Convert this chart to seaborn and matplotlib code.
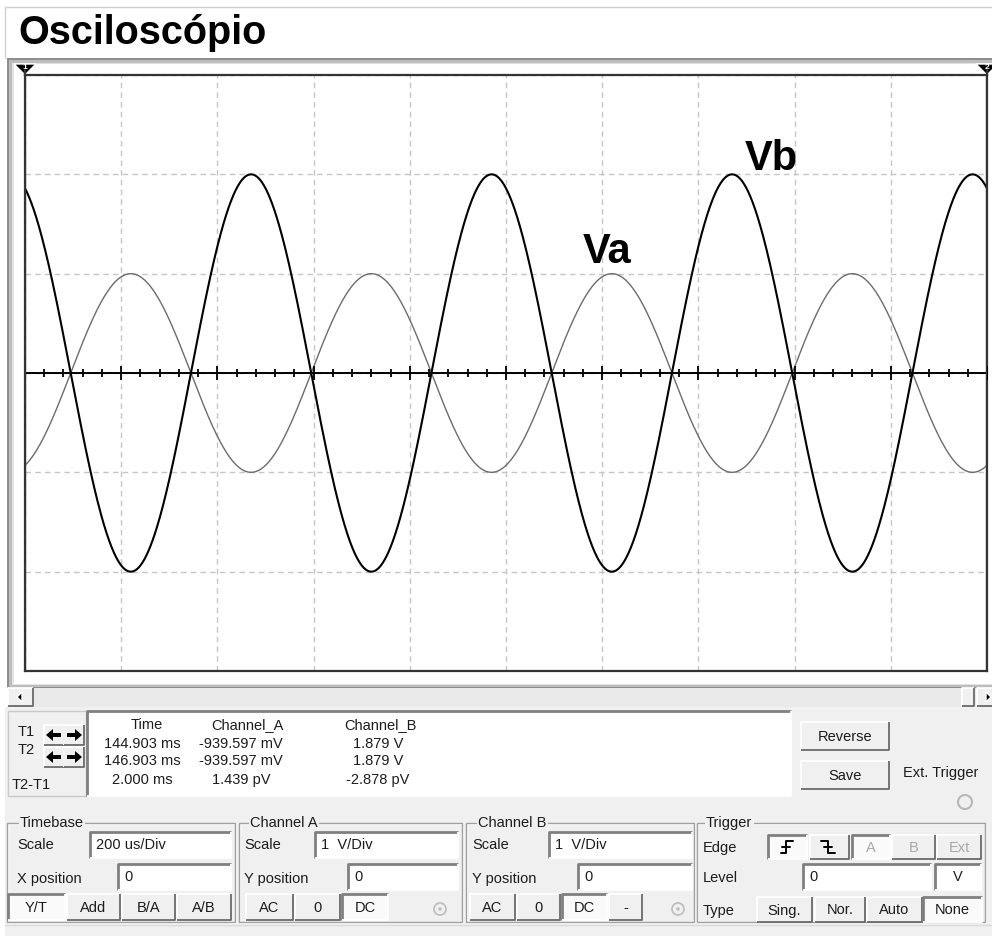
import numpy as np
import pandas as pd
import seaborn as sns
import matplotlib
matplotlib.use('Agg')
import matplotlib.pyplot as plt
from matplotlib.patches import Rectangle, Polygon, Circle, FancyArrow

# screen settings (from the panel)
time_per_div_us = 200
n_div_x = 10
div_y = [-3, -2, -1, 0, 1, 2, 3]

# traces: peak volts, period, time of one peak
trace_names = ['Va', 'Vb']
trace_amp = [1.0, 2.0]
trace_period_us = [500, 500]
trace_peak_us = [220, 470]
trace_colors = ['#6c6c6c', '#000000']
trace_lw = [1.0, 1.5]
label_t_us = [1160, 1497]
label_v = [1.11, 2.04]

# cursor readout
cursor_us = [0, 2000]
cursor_names = ['T1', 'T2', 'T2-T1']
readout_headers = ['Time', 'Channel_A', 'Channel_B']
readout_time = ['144.903 ms', '146.903 ms', '2.000 ms']
readout_a = ['-939.597 mV', '-939.597 mV', '1.439 pV']
readout_b = ['1.879 V', '1.879 V', '-2.878 pV']

# control settings
timebase_scale = '200 us/Div'
x_position = '0'
cha_scale = '1  V/Div'
chb_scale = '1  V/Div'
y_position = ['0', '0']
trig_level = '0'
trig_unit = 'V'

sns.set_style('white')
plt.rcParams['font.family'] = ['Liberation Sans', 'DejaVu Sans']

W, H = 992, 936
fig = plt.figure(figsize=(W / 100, H / 100), dpi=100)
bg = fig.add_axes([0, 0, 1, 1], zorder=0)
bg.set_xlim(0, W)
bg.set_ylim(H, 0)
bg.axis('off')

TXT = '#1c1c1c'
FS = 10.5


def rect(x0, y0, x1, y1, fc, ec='none', lw=1, z=1):
    bg.add_patch(Rectangle((x0, y0), x1 - x0, y1 - y0, facecolor=fc,
                           edgecolor=ec, lw=lw, zorder=z))


def bevel(x0, y0, x1, y1, raised=True, face='#f0f0f0', z=2):
    rect(x0, y0, x1, y1, face, z=z)
    if raised:
        hi, lo, lwh = 'white', '#6a6a6a', 1.3
    else:
        hi, lo, lwh = '#808080', '#ffffff', 2.0
    bg.plot([x0, x0, x1], [y1, y0, y0], color=hi, lw=lwh, zorder=z + 0.1,
            solid_capstyle='butt')
    bg.plot([x0, x1, x1], [y1, y1, y0], color=lo, lw=1.3, zorder=z + 0.1,
            solid_capstyle='butt')


def button(x0, y0, x1, y1, label, pressed=False, grey=False):
    bevel(x0, y0, x1, y1, raised=not pressed,
          face='#fafafa' if pressed else '#f0f0f0')
    if label:
        bg.text((x0 + x1) / 2, (y0 + y1) / 2 + 1, label, ha='center',
                va='center', fontsize=FS, zorder=3,
                color='#a8a8a8' if grey else TXT)


def textbox(x0, y0, x1, y1, value, center=False):
    bevel(x0, y0, x1, y1, raised=False, face='white')
    if center:
        bg.text((x0 + x1) / 2, (y0 + y1) / 2, value, ha='center',
                va='center', fontsize=FS, color=TXT, zorder=3)
    else:
        bg.text(x0 + 6, (y0 + y1) / 2, value, ha='left', va='center',
                fontsize=FS, color=TXT, zorder=3)


def group(x0, y0, x1, y1, title, tx):
    bg.add_patch(Rectangle((x0 + 1, y0 + 1), x1 - x0, y1 - y0, fill=False,
                           ec='white', lw=1, zorder=1.5))
    bg.add_patch(Rectangle((x0, y0), x1 - x0, y1 - y0, fill=False,
                           ec='#a0a0a0', lw=1, zorder=1.6))
    bg.text(tx, y0, title, ha='left', va='center', fontsize=FS, color=TXT,
            zorder=3, bbox=dict(fc='#f0f0f0', ec='none', pad=1))


def label(x, y, s, **kw):
    bg.text(x, y, s, ha=kw.pop('ha', 'left'), va='center', fontsize=FS,
            color=kw.pop('color', TXT), zorder=3, **kw)


def radio(x, y):
    bg.add_patch(Circle((x, y), 6, fill=False, ec='#c0c0c0', lw=1.3, zorder=3))
    bg.add_patch(Circle((x, y), 1.8, fc='#c0c0c0', ec='none', zorder=3))


# window background and title
rect(0, 0, W, H, 'white', z=0)
bg.plot([5, W], [7, 7], color='#cfcfcf', lw=1)
bg.plot([5, 5], [7, 58], color='#cfcfcf', lw=1)
bg.text(18, 44, 'Osciloscópio', fontsize=28.5, weight='bold', color='black',
        va='baseline', ha='left')

# screen frame
rect(7, 58, W, 689, '#8e8e8e')
rect(9, 60, W, 687, '#bdbdbd')
rect(12, 63, W, 685, '#e2e2e2')
rect(14, 64, W, 684, 'white')

# scroll bar
rect(7, 688, W, 707, '#eaeaea')
bevel(8, 688, 33, 706)
bg.add_patch(Polygon([(17, 697), (22, 692), (22, 702)], fc='black', zorder=3))
bevel(962, 688, 974, 706)
bevel(977, 688, 996, 706)
bg.add_patch(Polygon([(991, 697), (986, 692), (986, 702)], fc='black', zorder=3))

# control panel
rect(5, 707, W, H, '#f0f0f0')
bg.plot([5, W], [925, 925], color='#dadada', lw=1)

# cursor box
rect(8, 711, 86, 796, '#f0f0f0', ec='#cacaca', lw=1)
label(18, 732, cursor_names[0])
label(18, 750, cursor_names[1])
label(31, 785, cursor_names[2], ha='center')
for yc in [735, 757]:
    bevel(44, yc - 10, 64, yc + 10)
    bevel(64, yc - 10, 84, yc + 10)
    bg.add_patch(FancyArrow(61, yc, -15, 0, width=4, head_width=12,
                            head_length=7, length_includes_head=True,
                            fc='black', ec='none', zorder=4))
    bg.add_patch(FancyArrow(67, yc, 15, 0, width=4, head_width=12,
                            head_length=7, length_includes_head=True,
                            fc='black', ec='none', zorder=4))

bevel(87, 711, 791, 796, raised=False, face='white')
head_x = [147, 247, 380]
col_x = [142, 241, 378]
row_y = [744, 761, 780]
for hx, h in zip(head_x, readout_headers):
    label(hx, 725, h, ha='center')
for col, cx in zip([readout_time, readout_a, readout_b], col_x):
    for v, ry in zip(col, row_y):
        label(cx, ry, v, ha='center')

button(801, 722, 889, 750, 'Reverse')
button(801, 761, 889, 789, 'Save')
label(903, 773, 'Ext. Trigger')
bg.add_patch(Circle((965, 802), 7, fill=False, ec='#b8b8b8', lw=1.5, zorder=3))

# Timebase
group(7, 823, 235, 922, 'Timebase', 20)
label(17, 845, 'Scale')
label(17, 879, 'X position')
textbox(90, 832, 231, 858, timebase_scale)
textbox(118, 864, 231, 890, x_position)
button(8, 894, 65, 920, 'Y/T', pressed=True)
button(67, 894, 120, 920, 'Add')
button(122, 894, 175, 920, 'B/A')
button(177, 894, 231, 920, 'A/B')

# Channel A
group(239, 823, 462, 922, 'Channel A', 250)
label(244, 845, 'Scale')
label(244, 879, 'Y position')
textbox(315, 832, 458, 858, cha_scale)
textbox(348, 864, 458, 890, y_position[0])
button(246, 894, 293, 920, 'AC')
button(295, 894, 340, 920, '0')
button(342, 894, 388, 920, 'DC', pressed=True)
radio(440, 909)

# Channel B
group(466, 823, 694, 922, 'Channel B', 478)
label(472, 845, 'Scale')
label(472, 879, 'Y position')
textbox(549, 832, 692, 858, chb_scale)
textbox(578, 864, 692, 890, y_position[1])
button(470, 894, 515, 920, 'AC')
button(517, 894, 560, 920, '0')
button(562, 894, 607, 920, 'DC', pressed=True)
button(609, 894, 642, 920, '-')
radio(678, 909)

# Trigger
group(697, 823, 985, 922, 'Trigger', 706)
label(703, 848, 'Edge')
label(703, 878, 'Level')
label(703, 911, 'Type')
button(768, 835, 807, 859, '', pressed=True)
bg.plot([781, 786, 786, 793], [853, 853, 841, 841], color='black', lw=1.4, zorder=4)
bg.plot([782, 790], [847, 847], color='black', lw=1.4, zorder=4)
button(810, 835, 849, 859, '')
bg.plot([821, 828, 828, 835], [841, 841, 853, 853], color='black', lw=1.4, zorder=4)
bg.plot([824, 832], [847, 847], color='black', lw=1.4, zorder=4)
button(852, 835, 890, 859, 'A', pressed=True, grey=True)
button(892, 835, 935, 859, 'B', grey=True)
button(937, 835, 981, 859, 'Ext', grey=True)
textbox(803, 864, 931, 890, trig_level)
textbox(935, 864, 981, 890, trig_unit, center=True)
button(757, 897, 812, 922, 'Sing.')
button(815, 897, 865, 922, 'Nor.')
button(867, 897, 922, 922, 'Auto')
button(923, 897, 982, 922, 'None', pressed=True)

# cursor markers above the screen
for cx, num in [(25, '1'), (987, '2')]:
    bg.add_patch(Polygon([(cx - 11, 64), (cx + 11, 64), (cx, 75)], fc='black',
                         zorder=4))
    bg.text(cx, 67.5, num, color='white', fontsize=6, weight='bold',
            ha='center', va='center', zorder=5)
    bg.plot([cx, cx], [70, 76], color='#333333', lw=1.6, zorder=4)

# oscilloscope screen
L, R, T, B = 25, 987, 75, 671
ax = fig.add_axes([L / W, 1 - B / H, (R - L) / W, (B - T) / H], zorder=1)
ax.set_facecolor('white')

t = np.linspace(0, n_div_x * time_per_div_us, 2001)
frames = []
for name, amp, per, pk in zip(trace_names, trace_amp, trace_period_us, trace_peak_us):
    frames.append(pd.DataFrame({'t': t,
                                'v': amp * np.cos(2 * np.pi * (t - pk) / per),
                                'trace': name}))
df = pd.concat(frames, ignore_index=True)

ax.set_xticks(np.arange(0, n_div_x * time_per_div_us + 1, time_per_div_us))
ax.set_yticks(div_y)
ax.grid(True, color='#c6c6c6', ls=(0, (4, 3)), lw=1)
ax.tick_params(length=0, labelbottom=False, labelleft=False)

for name, c, lw in zip(trace_names, trace_colors, trace_lw):
    sns.lineplot(data=df[df['trace'] == name], x='t', y='v', color=c, lw=lw,
                 estimator=None, ax=ax, legend=False, zorder=3)

ax.axhline(0, color='black', lw=1.4, zorder=4)
minor = [x for x in np.arange(0, 2001, 40) if x % 200]
major = list(np.arange(0, 2001, 200))
ax.plot(minor, np.zeros(len(minor)), ls='none', marker='|', ms=6, mew=1.3,
        color='black', zorder=4)
ax.plot(major, np.zeros(len(major)), ls='none', marker='|', ms=10, mew=1.3,
        color='black', zorder=4)
for cx in cursor_us:
    ax.axvline(cx, color='#333333', lw=1.6, zorder=5)

for name, lt, lv in zip(trace_names, label_t_us, label_v):
    ax.text(lt, lv, name, fontsize=30, weight='bold', color='black',
            va='baseline', ha='left', zorder=6)

ax.set_xlim(0, n_div_x * time_per_div_us)
ax.set_ylim(div_y[0], div_y[-1])
ax.set_xlabel('')
ax.set_ylabel('')
for s in ax.spines.values():
    s.set_visible(True)
    s.set_color('#333333')
    s.set_linewidth(1.6)

fig.savefig('out.png', dpi=100)
